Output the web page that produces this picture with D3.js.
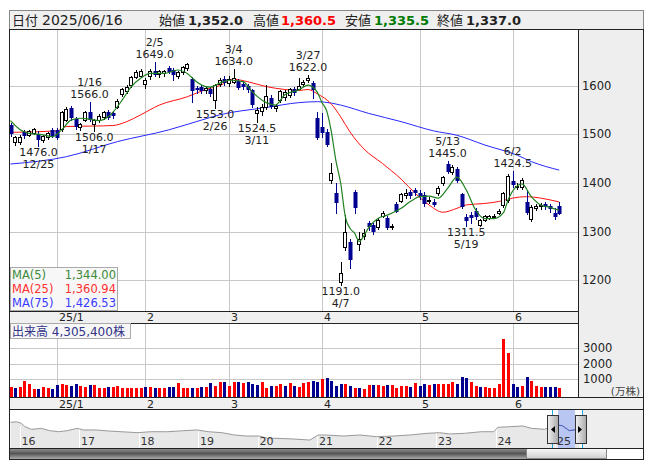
<!DOCTYPE html>
<html>
<head>
<meta charset="utf-8">
<script src="https://cdn.jsdelivr.net/npm/d3@7"></script>
<style>
  body { margin: 0; background: #fff; }
  svg { display: block; font-family: "DejaVu Sans", "Noto Sans CJK JP", sans-serif; }
</style>
</head>
<body>
<div id="chart"></div>
<script>
// ---- data ----
const dates = [
  "12/17","12/18","12/19","12/20","12/23","12/24","12/25","12/26","12/27","12/30",
  "1/6","1/7","1/8","1/9","1/10","1/14","1/15","1/16","1/17","1/20","1/21","1/22","1/23","1/24","1/27","1/28","1/29","1/30","1/31",
  "2/3","2/4","2/5","2/6","2/7","2/10","2/12","2/13","2/14","2/17","2/18","2/19","2/20","2/21","2/25","2/26","2/27","2/28",
  "3/3","3/4","3/5","3/6","3/7","3/10","3/11","3/12","3/13","3/14","3/17","3/18","3/19","3/21","3/24","3/25","3/26","3/27","3/28","3/31",
  "4/1","4/2","4/3","4/4","4/7","4/8","4/9","4/10","4/11","4/14","4/15","4/16","4/17","4/18","4/21","4/22","4/23","4/24","4/25","4/28","4/30",
  "5/1","5/2","5/7","5/8","5/9","5/12","5/13","5/14","5/15","5/16","5/19","5/20","5/21","5/22","5/23","5/26","5/27","5/28","5/29","5/30",
  "6/2","6/3","6/4","6/5","6/6","6/9","6/10","6/11","6/12","6/13","6/16"
];
const opens = [
  1519,1485,1484,1505,1499,1503,1500,1488,1495,1508,
  1509,1510,1530,1554,1532,1516,1530,1546,1522,1530,1536,1546,1544,1556,1582,1588,1601,1618,1620,
  1604,1619,1630,1623,1625,1636,1632,1620,1627,1636,1614,1596,1598,1590,1592,1570,1604,1614,
  1605,1608,1609,1604,1600,1590,1544,1548,1557,1575,1553,1570,1576,1580,1594,1594,1604,1611,1606,1533,
  1516,1505,1406,1379,1197,1269,1279,1382,1275,1291,1318,1314,1310,1332,1329,1311,1357,1364,1376,1382,1385,
  1380,1376,1364,1362,1379,1399,1440,1423,1428,1377,1331,1334,1343,1314,1325,1329,1331,1339,1355,1365,
  1405,1394,1392,1362,1327,1349,1353,1356,1352,1339,1352
];
const highs = [
  1524,1497,1498,1509,1508,1513,1506,1499,1504,1512,
  1513,1548,1556,1558,1535,1524,1548,1566,1532,1541,1548,1550,1548,1572,1596,1602,1620,1632,1634,
  1616,1634,1649,1632,1632,1641,1636,1630,1641,1646,1618,1600,1602,1600,1598,1604,1616,1620,
  1620,1634,1614,1610,1604,1593,1556,1562,1602,1580,1563,1591,1590,1595,1597,1616,1612,1622,1610,1545,
  1543,1510,1441,1400,1238,1334,1285,1386,1300,1305,1322,1318,1328,1342,1332,1316,1360,1380,1388,1386,1390,
  1386,1382,1372,1368,1394,1414,1445,1436,1432,1380,1336,1340,1348,1326,1334,1334,1336,1346,1382,1418,
  1424.5,1400,1410,1386,1354,1356,1358,1360,1356,1348,1360.5
];
const lows = [
  1497,1479,1480,1492,1496,1500,1476,1484,1490,1494,
  1490,1507,1527,1530,1510,1508,1528,1528,1506,1526,1532,1532,1534,1553,1578,1585,1598,1615,1617,
  1595,1614,1620,1618,1620,1626,1611,1616,1624,1633,1567,1585,1585,1585,1578,1553,1600,1602,
  1600,1605,1593,1594,1587,1556,1524.5,1540,1552,1553,1548,1566,1570,1576,1580,1592,1600,1607,1575,1490,
  1495,1476,1400,1338,1191,1262,1225,1338,1262,1285,1304,1296,1306,1330,1305,1306,1340,1360,1370,1370,1375,
  1368,1352,1358,1352,1376,1396,1420,1418,1402,1348,1311.5,1318,1326,1312,1322,1326,1328,1336,1350,1360,
  1392,1388,1388,1336,1322,1344,1346,1346,1340,1326,1335.5
];
const closes = [
  1500,1494,1495,1497,1506,1510,1488,1496,1502,1497,
  1493,1545,1552,1533,1514,1521,1545,1530,1530,1538,1545,1534,1537,1569,1594,1598,1617,1628,1630,
  1612,1629,1622,1629,1629,1627,1622,1627,1638,1644,1588,1590,1588,1595,1582,1601,1612,1606,
  1613,1616,1596,1598,1590,1561,1550,1557,1578,1557,1559,1588,1586,1593,1584,1599,1608,1616,1590,1493,
  1503,1479,1420,1359,1215,1300,1242,1348,1285,1298,1310,1300,1324,1339,1307,1312,1341,1377,1380,1373,1380,
  1372,1356,1366,1355,1390,1412,1423,1433,1405,1351,1321,1328,1331,1324,1332,1332,1332,1343,1379,1414,
  1396,1394,1406,1339,1351,1353,1354,1350,1347,1331,1337
];
// volume in 万株
const volumes = [
  480,430,470,900,650,330,330,480,420,380,
  620,700,620,560,700,560,460,600,600,400,
  450,500,500,560,450,450,450,450,450,500,
  470,430,420,400,500,460,760,450,430,400,
  400,460,500,760,540,780,780,520,780,820,
  720,780,650,600,820,420,520,560,650,560,
  760,520,480,720,820,900,820,980,1050,850,
  520,680,700,560,400,400,380,600,620,600,
  560,620,620,420,580,560,480,720,580,700,
  600,700,680,680,700,820,650,1150,1050,820,
  560,480,480,430,450,650,3600,2650,650,480,
  520,1150,900,520,480,480,480,500,430
];
// moving averages, [day index, value]
const ma5 = [[0,1528],[2,1510],[4,1502],[7,1499],[9,1495],[11,1509],[13,1529],[15,1533],[17,1531],[19,1528],
  [21,1536],[22,1545],[24,1570],[26,1598],[28,1615],[30,1625],[33,1625],[36,1632],[38,1625],[40,1608],
  [42,1598],[43,1597],[45,1605],[47,1611],[50,1608],[52,1587],[55,1565],[57,1560],[59,1581],[62,1591],
  [64,1601],[65,1597],[66,1586],[67,1565],[68,1548],[69,1505],[70,1445],[71,1400],[72,1331],[73,1307],
  [74,1297],[75,1280],[76,1292],[77,1308],[79,1327],[81,1334],[84,1348],[86,1362],[88,1372],[90,1373],
  [92,1369],[94,1389],[96,1412],[98,1386],[100,1345],[102,1327],[104,1327],[106,1339],[107,1365],[110,1398],
  [112,1372],[114,1355],[116,1350],[118,1344]];
const ma25 = [[0,1504],[10,1507],[12,1516],[18,1517],[22,1518],[25,1526],[28,1540],[32,1560],[38,1577],
  [42,1592],[45,1600],[48,1613],[51,1608],[55,1598],[59,1592],[62,1590],[64,1592],[66,1583],[69,1562],
  [71,1536],[73,1505],[76,1470],[80,1440],[84,1408],[87,1379],[90,1355],[93,1340],[96,1348],[98,1355],
  [102,1358],[105,1362],[108,1369],[111,1372],[114,1369],[118,1361]];
const ma75 = [[0,1439],[12,1454],[23,1485],[34,1509],[41,1529],[45,1540],[55,1555],[62,1565],[66,1567],
  [69,1564],[71,1560],[77,1543],[84,1526],[91,1507],[96,1498],[102,1478],[109,1457],[112,1444],[118,1426.5]];
const maLegend = [["MA(5)", "1,344.00", "#3a8a3a"], ["MA(25)", "1,360.94", "#ff3030"], ["MA(75)", "1,426.53", "#3a3aff"]];
const priceTicks = [1200, 1300, 1400, 1500, 1600];
const volTicks = [1000, 2000, 3000];
const marks = [["12/25","low"],["1/16","high"],["1/17","low"],["2/5","high"],["2/26","low"],["3/4","high"],
  ["3/11","low"],["3/27","high"],["4/7","low"],["5/13","high"],["5/19","low"],["6/2","high"]];
const lastVolume = "4,305,400";
// long-term navigator line: [year, price]
const navYears = [2016, 2017, 2018, 2019, 2020, 2021, 2022, 2023, 2024, 2025];
const navLine = [[2015.85,1770],[2015.95,1800],[2016.03,1710],[2016.09,1500],[2016.2,1330],[2016.37,1390],
  [2016.51,1245],[2016.66,1180],[2016.8,1245],[2016.97,1390],[2017.08,1290],[2017.29,1290],[2017.5,1225],
  [2017.71,1180],[2017.99,1120],[2018.2,1180],[2018.49,1180],[2018.76,1245],[2018.98,1290],[2019.18,1180],
  [2019.4,1120],[2019.61,975],[2019.82,910],[2020.03,910],[2020.17,770],[2020.31,770],[2020.6,725],
  [2020.88,660],[2021.02,975],[2021.16,975],[2021.44,910],[2021.72,975],[2022.0,870],[2022.28,910],
  [2022.56,975],[2022.85,1080],[2023.06,1120],[2023.23,1040],[2023.48,1080],[2023.76,1180],[2023.97,1180],
  [2024.04,1455],[2024.25,1495],[2024.46,1540],[2024.6,1395],[2024.82,1330],[2025.03,1600],[2025.12,1560],
  [2025.24,1250],[2025.41,1330]];

// ---- setup ----
const W = 653, H = 470;
const svg = d3.select("#chart").append("svg").attr("width", W).attr("height", H);
const defs = svg.append("defs");

const PL = 10, PR = 578, PT = 30, PB = 311;
const VT = 324, VB = 397;
const NT = 410, NB = 448, SB = 459;
const FR = 643;

const x = d3.scaleLinear().domain([0, dates.length - 1]).range([10.5, 10.5 + 4.65 * (dates.length - 1)]);
const y = d3.scaleLinear().domain([1200, 1600]).range([280.4, 85.6]);
const yv = d3.scaleLinear().domain([0, 3000]).range([394.5, 348]);
const navX = d3.scaleLinear().domain([2016, 2025]).range([19.5, 555]);
const navY = d3.scaleLinear().domain([700, 1800]).range([439.4, 421.8]);

const fmt1 = d3.format(",.1f");
const px = i => Math.round(x(i));
const up = i => closes[i] >= opens[i];

// month starts
const monthStarts = [];
dates.forEach((d, i) => {
  if (i === 0) return;
  const m = d.split("/")[0], pm = dates[i - 1].split("/")[0];
  if (m !== pm) monthStarts.push({ i, label: m === "1" ? "25/1" : m });
});

// ---- header ----
svg.append("rect").attr("x", 9.5).attr("y", 10.5).attr("width", FR - 9).attr("height", 19)
  .attr("fill", "#efefef").attr("stroke", "#888");
const last = dates.length - 1;
const header = [
  { x: 12, t: "日付", size: 13, w: "normal", c: "#222" },
  { x: 42, t: "2025/06/16", size: 14, w: "normal", c: "#222" },
  { x: 159, t: "始値", size: 13, w: "normal", c: "#222" },
  { x: 188, t: fmt1(opens[last]), size: 13, w: "bold", c: "#222" },
  { x: 253, t: "高値", size: 13, w: "normal", c: "#222" },
  { x: 281, t: fmt1(highs[last]), size: 13, w: "bold", c: "#ff0000" },
  { x: 345, t: "安値", size: 13, w: "normal", c: "#222" },
  { x: 374, t: fmt1(lows[last]), size: 13, w: "bold", c: "#007a00" },
  { x: 437, t: "終値", size: 13, w: "normal", c: "#222" },
  { x: 466, t: fmt1(closes[last]), size: 13, w: "bold", c: "#222" }
];
svg.append("g").selectAll("text").data(header).enter().append("text")
  .attr("x", d => d.x).attr("y", 25).attr("font-size", d => d.size).attr("font-weight", d => d.w)
  .attr("fill", d => d.c).text(d => d.t);

// ---- backgrounds ----
svg.append("rect").attr("x", PR).attr("y", PT).attr("width", FR - PR).attr("height", VB - PT).attr("fill", "#eeeeee");
svg.append("rect").attr("x", PL).attr("y", PB).attr("width", PR - PL).attr("height", VT - PB).attr("fill", "#f0f0f0");
svg.append("rect").attr("x", PL).attr("y", VB).attr("width", FR - PL).attr("height", NT - VB).attr("fill", "#f0f0f0");

// ---- grid ----
const grid = svg.append("g").attr("stroke", "#c8c8c8").attr("stroke-width", 1);
grid.selectAll(".hp").data(priceTicks).enter().append("line")
  .attr("x1", PL).attr("x2", PR).attr("y1", d => Math.round(y(d)) + 0.5).attr("y2", d => Math.round(y(d)) + 0.5);
grid.selectAll(".hv").data(volTicks).enter().append("line")
  .attr("x1", PL).attr("x2", PR).attr("y1", d => Math.round(yv(d)) + 0.5).attr("y2", d => Math.round(yv(d)) + 0.5);
grid.selectAll(".vp").data(monthStarts).enter().append("line")
  .attr("x1", d => px(d.i) + 0.5).attr("x2", d => px(d.i) + 0.5).attr("y1", PT).attr("y2", PB);
grid.selectAll(".vv").data(monthStarts).enter().append("line")
  .attr("x1", d => px(d.i) + 0.5).attr("x2", d => px(d.i) + 0.5).attr("y1", VT).attr("y2", VB);

// ---- price axis labels ----
svg.append("g").selectAll("text").data(priceTicks).enter().append("text")
  .attr("x", 582).attr("y", d => y(d) + 4).attr("font-size", 11.5).attr("fill", "#222").text(d => d);
svg.append("g").selectAll("text").data(volTicks).enter().append("text")
  .attr("x", 583).attr("y", d => yv(d) + 4).attr("font-size", 11.5).attr("fill", "#222").text(d => d);
svg.append("text").attr("x", 640).attr("y", 395).attr("text-anchor", "end").attr("font-size", 10.5)
  .attr("fill", "#444").text("(万株)");

// ---- candles ----
defs.append("clipPath").attr("id", "clipP").append("rect")
  .attr("x", PL).attr("y", PT).attr("width", PR - PL).attr("height", PB - PT);
const pg = svg.append("g").attr("clip-path", "url(#clipP)");
const NAVY = "#000090";

const ml = (pts, color, w) => pg.append("path").datum(pts).attr("fill", "none").attr("stroke", color)
  .attr("stroke-width", w).attr("d", d3.line().x(d => x(d[0])).y(d => y(d[1])).curve(d3.curveMonotoneX));
ml(ma75, "#2828ff", 1);
ml(ma25, "#ff1010", 1);

const candle = pg.selectAll(".c").data(dates.map((d, i) => i)).enter().append("g");
candle.append("line")
  .attr("x1", i => px(i) + 0.5).attr("x2", i => px(i) + 0.5)
  .attr("y1", i => Math.round(y(highs[i]))).attr("y2", i => Math.round(y(lows[i])) + 1)
  .attr("stroke", i => up(i) ? "#000" : NAVY);
candle.append("rect")
  .attr("x", i => up(i) ? px(i) - 1.5 : px(i) - 1.5)
  .attr("y", i => Math.round(y(Math.max(opens[i], closes[i]))) + (up(i) ? 0.5 : 0))
  .attr("width", i => up(i) ? 3 : 4)
  .attr("height", i => Math.max(1, Math.round(y(Math.min(opens[i], closes[i]))) - Math.round(y(Math.max(opens[i], closes[i])))))
  .attr("fill", i => up(i) ? "#fff" : NAVY)
  .attr("stroke", i => up(i) ? "#000" : "none");

ml(ma5, "#1f801f", 1.2);

// ---- high/low marks ----
const mk = svg.append("g").attr("font-size", 11).attr("fill", "#222").attr("text-anchor", "middle");
marks.forEach(([d, kind]) => {
  const i = dates.indexOf(d);
  if (kind === "high") {
    const yy = y(highs[i]);
    mk.append("text").attr("x", x(i)).attr("y", yy - 16).text(d);
    mk.append("text").attr("x", x(i)).attr("y", yy - 4).text(highs[i].toFixed(1));
  } else {
    const yy = y(lows[i]);
    mk.append("text").attr("x", x(i)).attr("y", yy + 10).text(lows[i].toFixed(1));
    mk.append("text").attr("x", x(i)).attr("y", yy + 22).text(d);
  }
});

// ---- MA legend ----
const lg = svg.append("g");
lg.append("rect").attr("x", 10.5).attr("y", 267.5).attr("width", 107).attr("height", 43)
  .attr("fill", "#f7f7f7").attr("stroke", "#aaa");
maLegend.forEach(([name, val, c], k) => {
  lg.append("text").attr("x", 12).attr("y", 279 + k * 14.2).attr("font-size", 11.5).attr("fill", c).text(name);
  lg.append("text").attr("x", 116).attr("y", 279 + k * 14.2).attr("font-size", 11.5).attr("fill", c)
    .attr("text-anchor", "end").text(val);
});

// ---- axis bars ----
const bars = svg.append("g").attr("stroke", "#222");
[PB + 0.5, VT - 0.5].forEach(v => bars.append("line").attr("x1", PL).attr("x2", PR).attr("y1", v).attr("y2", v));
[VB + 0.5, NT - 0.5].forEach(v => bars.append("line").attr("x1", PL).attr("x2", FR).attr("y1", v).attr("y2", v));
svg.append("g").selectAll("text").data(monthStarts).enter().append("text")
  .attr("x", d => px(d.i) + 2).attr("y", 321).attr("font-size", 11).attr("fill", "#222").text(d => d.label);
svg.append("g").selectAll("text").data(monthStarts).enter().append("text")
  .attr("x", d => px(d.i) + 2).attr("y", 407.5).attr("font-size", 11).attr("fill", "#222").text(d => d.label);

// ---- volume ----
svg.append("g").selectAll("rect").data(volumes).enter().append("rect")
  .attr("x", (d, i) => px(i) - 1).attr("width", 3)
  .attr("y", d => Math.round(yv(d))).attr("height", d => VB - Math.round(yv(d)))
  .attr("fill", (d, i) => i > 0 && closes[i] < closes[i - 1] ? NAVY : "#ff0000");
const vl = svg.append("g");
vl.append("rect").attr("x", 10.5).attr("y", 323.5).attr("width", 120).attr("height", 15)
  .attr("fill", "#f7f7f7").attr("stroke", "#aaa");
vl.append("text").attr("x", 12).attr("y", 335.5).attr("font-size", 12).attr("fill", "#333388")
  .text("出来高 " + lastVolume + "株");

// ---- navigator ----
svg.append("rect").attr("x", 582).attr("y", NT).attr("width", FR - 582).attr("height", NB - NT).attr("fill", "#eeeeee");
defs.append("clipPath").attr("id", "clipN").append("rect")
  .attr("x", PL).attr("y", NT).attr("width", 582 - PL).attr("height", NB - NT);
defs.append("clipPath").attr("id", "clipS").append("rect")
  .attr("x", 558).attr("y", NT).attr("width", 17).attr("height", NB - NT);
const ng = svg.append("g").attr("clip-path", "url(#clipN)");
const navLineGen = d3.line().x(d => navX(d[0])).y(d => navY(d[1]));
ng.append("path").datum(navLine).attr("fill", "#e8e8e8")
  .attr("d", d3.area().x(d => navX(d[0])).y0(NB).y1(d => navY(d[1])));
ng.selectAll(".ys").data(navYears).enter().append("line")
  .attr("x1", d => Math.round(navX(d)) + 0.5).attr("x2", d => Math.round(navX(d)) + 0.5)
  .attr("y1", 426).attr("y2", NB).attr("stroke", "#fff");
ng.append("rect").attr("x", 558).attr("y", NT).attr("width", 17).attr("height", NB - NT).attr("fill", "#b9c6f2");
ng.append("path").datum(navLine).attr("fill", "none").attr("stroke", "#999").attr("d", navLineGen);
svg.append("path").datum(navLine).attr("clip-path", "url(#clipS)").attr("fill", "none")
  .attr("stroke", "#4a5fd0").attr("d", navLineGen);
svg.append("g").selectAll("text").data(navYears).enter().append("text")
  .attr("x", d => navX(d) + 2).attr("y", 444.5).attr("font-size", 11).attr("fill", "#333")
  .text(d => String(d).slice(2));
[552.5, 582.5].forEach(v => svg.append("line").attr("x1", v).attr("x2", v).attr("y1", NT).attr("y2", NB)
  .attr("stroke", "#22a8dd"));
const hg = defs.append("linearGradient").attr("id", "hg");
hg.append("stop").attr("offset", "0").attr("stop-color", "#f2f2f2");
hg.append("stop").attr("offset", "1").attr("stop-color", "#a8a8a8");
[[547.5, "M551,429.5l4,-3.5v7z"], [575.5, "M582,429.5l-4,-3.5v7z"]].forEach(([hx, tri]) => {
  svg.append("rect").attr("x", hx).attr("y", 415.5).attr("width", 11).attr("height", 28)
    .attr("fill", "url(#hg)").attr("stroke", "#333");
  svg.append("path").attr("d", tri).attr("fill", "#000");
});

// ---- scrollbar ----
const sg = defs.append("linearGradient").attr("id", "sg").attr("x1", 0).attr("x2", 0).attr("y1", 0).attr("y2", 1);
sg.append("stop").attr("offset", "0").attr("stop-color", "#999");
sg.append("stop").attr("offset", "0.5").attr("stop-color", "#555");
sg.append("stop").attr("offset", "1").attr("stop-color", "#aaa");
const tg = defs.append("linearGradient").attr("id", "tg").attr("x1", 0).attr("x2", 0).attr("y1", 0).attr("y2", 1);
tg.append("stop").attr("offset", "0").attr("stop-color", "#fafafa");
tg.append("stop").attr("offset", "1").attr("stop-color", "#cfcfcf");
svg.append("rect").attr("x", PL).attr("y", NB).attr("width", 526 - PL).attr("height", SB - NB).attr("fill", "url(#sg)");
svg.append("rect").attr("x", 526.5).attr("y", NB + 0.5).attr("width", 80).attr("height", SB - NB - 1)
  .attr("fill", "url(#tg)").attr("stroke", "#888");
svg.append("line").attr("x1", PL).attr("x2", FR).attr("y1", NB + 0.5).attr("y2", NB + 0.5).attr("stroke", "#222");

// ---- frame ----
const fr = svg.append("g").attr("stroke", "#222").attr("fill", "none");
fr.append("rect").attr("x", 9.5).attr("y", 29.5).attr("width", FR - 9).attr("height", SB - 29);
fr.append("line").attr("x1", PR + 0.5).attr("x2", PR + 0.5).attr("y1", PT).attr("y2", VB);
</script>
</body>
</html>
